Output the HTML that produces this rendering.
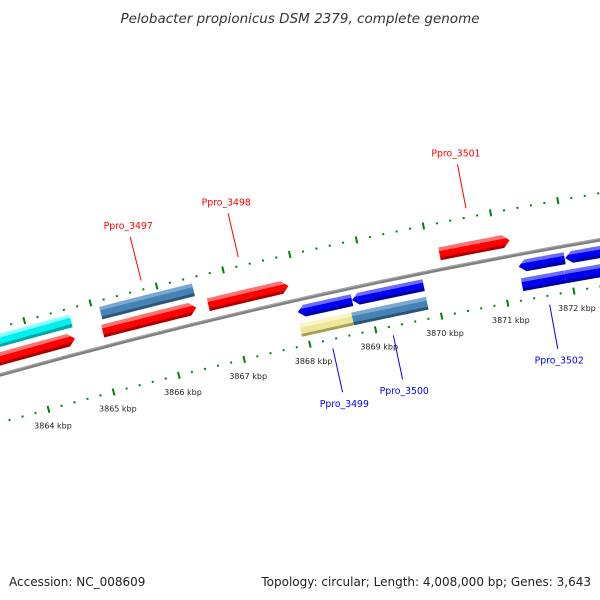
<!DOCTYPE html>
<html><head><meta charset="utf-8"><style>
html,body{margin:0;padding:0;background:#fff;}
svg{display:block;}
text{font-family:"DejaVu Sans","Liberation Sans",sans-serif;}
</style></head>
<body>
<svg id="chart" width="600" height="600" viewBox="0 0 600 600" xmlns="http://www.w3.org/2000/svg">
<defs id="defs"></defs>
<text x="300" y="23" text-anchor="middle" font-size="13.5" font-style="italic" fill="#333">Pelobacter propionicus DSM 2379, complete genome</text>
<g id="ticks"></g>
<g id="backbone"></g>
<g id="genes"></g>
<g id="labels"></g>
<text x="9" y="586" font-size="12" fill="#222">Accession: NC_008609</text>
<text x="591" y="586" text-anchor="end" font-size="12" fill="#222">Topology: circular; Length: 4,008,000 bp; Genes: 3,643</text>
</svg>
<script>
// data (positions in kbp)
const tickStart = 3862;
const tickEnd = 3874;
const tickLabelKbp = [3864, 3865, 3866, 3867, 3868, 3869, 3870, 3871, 3872];
const geneStart = [3862.0, 3862.0, 3865.11, 3865.07, 3866.67, 3870.15, 3867.93, 3868.75, 3867.91, 3868.70, 3871.26, 3871.96, 3871.26, 3871.91];
const geneEnd   = [3864.66, 3864.65, 3866.51, 3866.49, 3867.88, 3871.20, 3868.75, 3869.83, 3868.70, 3869.83, 3871.95, 3873.5, 3871.91, 3873.5];
const geneStrand = [1, 1, 1, 1, 1, 1, -1, -1, -1, -1, -1, -1, -1, -1];
const geneRow    = [2, 1, 2, 1, 1, 1, 1, 1, 2, 2, 1, 1, 2, 2];
const geneColor  = ['cyan','red','steel','red','red','red','blue','blue','khaki','steel','blue','blue','blue','blue'];
const geneArrow  = [0, 1, 0, 1, 1, 1, 1, 1, 0, 0, 1, 1, 0, 0];
const labelNames = ['Ppro_3497','Ppro_3498','Ppro_3501','Ppro_3499','Ppro_3500','Ppro_3502'];
const labelKbp   = [3865.80, 3867.26, 3870.66, 3868.32, 3869.24, 3871.61];
const labelStrand = [1, 1, 1, -1, -1, -1];

const NS = 'http://www.w3.org/2000/svg';
const R0 = 6000, CX = 1617, CY = 6153, A0 = -0.19872, K = 0.01131, KB0 = 3870;
function pt(kbp, r){ const a = A0 + (kbp - KB0) * K; return [CX + r*Math.sin(a), CY - r*Math.cos(a)]; }
function mk(tag, attrs, parent){ const e = document.createElementNS(NS, tag); for (const k in attrs) e.setAttribute(k, attrs[k]); parent.appendChild(e); return e; }
const palette = {
  red:['#ff7070','#ff0000','#a80000'],
  blue:['#6a6aff','#0000f0','#00009a'],
  steel:['#7aa8d0','#4682b4','#2c5478'],
  cyan:['#8affff','#00f0f0','#00a8a8'],
  khaki:['#fbf5c0','#eee69a','#a89e58']
};
const defs = document.getElementById('defs');

// backbone
const bb = document.getElementById('backbone');
const p0 = pt(tickStart, R0), p1 = pt(tickEnd, R0);
const bbp = mk('path', {d:`M${p0[0]},${p0[1]} A${R0},${R0} 0 0 1 ${p1[0]},${p1[1]}`, stroke:'#808080', 'stroke-width':3.5, fill:'none'}, bb);


const q0 = pt(tickStart, R0+1), q1 = pt(tickEnd, R0+1);
mk('path', {d:`M${q0[0]},${q0[1]} A${R0+1},${R0+1} 0 0 1 ${q1[0]},${q1[1]}`, stroke:'#a8a8a8', 'stroke-width':1, fill:'none'}, bb);

// ticks
const tg = document.getElementById('ticks');
for (let i = Math.round(tickStart*5); i <= Math.round(tickEnd*5); i++) {
  const kb = i/5, major = (i % 5 === 0);
  [R0+46, R0-46].forEach(function(r){
    const len = major ? 3.5 : 1;
    const a = pt(kb, r-len), b = pt(kb, r+len);
    const ln = mk('line', {x1:a[0], y1:a[1], x2:b[0], y2:b[1], stroke:'#00800a', 'stroke-width':2}, tg);
    
    
  });
}
tickLabelKbp.forEach(function(kb){
  const p = pt(kb, R0-63);
  const t = mk('text', {x:p[0], y:p[1]+3, 'text-anchor':'middle', 'font-size':8, fill:'#222'}, tg);
  t.textContent = kb + ' kbp';
  
  
});

// genes
const gg = document.getElementById('genes');
const rows = {'1_1':[R0+22,R0+9], '1_2':[R0+40,R0+27], '-1_1':[R0-6,R0-18], '-1_2':[R0-24,R0-37]};
geneStart.forEach(function(s, i){
  const e = geneEnd[i], st = geneStrand[i];
  const rr = rows[st + '_' + geneRow[i]], ro = rr[0], ri = rr[1], rm = (ro+ri)/2;
  const h = geneArrow[i] ? 0.1 : 0;
  const pts = [];
  const n = 12;
  let as = s, ae = e;
  if (st === 1) ae = e - h; else as = s + h;
  if (st === -1 && h) pts.push(pt(s, rm));
  for (let j = 0; j <= n; j++) pts.push(pt(as + (ae-as)*j/n, ro));
  if (st === 1 && h) pts.push(pt(e, rm));
  for (let j = n; j >= 0; j--) pts.push(pt(as + (ae-as)*j/n, ri));
  const mid = (s+e)/2, g1 = pt(mid, ro), g2 = pt(mid, ri);
  const col = palette[geneColor[i]];
  const grad = mk('linearGradient', {id:'g'+i, gradientUnits:'userSpaceOnUse', x1:g1[0], y1:g1[1], x2:g2[0], y2:g2[1]}, defs);
  [[0,col[0]],[0.3,col[0]],[0.3,col[1]],[0.78,col[1]],[0.78,col[2]],[1,col[2]]].forEach(function(sp){ mk('stop', {offset:sp[0], 'stop-color':sp[1]}, grad); });
  const poly = mk('polygon', {points: pts.map(function(p){return p[0].toFixed(2)+','+p[1].toFixed(2);}).join(' '), fill:'url(#g'+i+')'}, gg);
  
  
});

// labels
const lg = document.getElementById('labels');
labelNames.forEach(function(nm, i){
  const kb = labelKbp[i], st = labelStrand[i];
  const col = st === 1 ? '#ff0000' : '#0000ff';
  const a = pt(kb, R0 + st*55), b = pt(kb, R0 + st*100), c = pt(kb, R0 + st*108);
  const ln = mk('line', {x1:a[0], y1:a[1], x2:b[0], y2:b[1], stroke:col, 'stroke-width':1}, lg);
  
  
  const t = mk('text', {x:c[0], y:c[1]+ (st===1 ? 0 : 7), 'text-anchor':'middle', 'font-size':9.3, fill:col}, lg);
  t.textContent = nm;
  
  
});
</script>
</body></html>
